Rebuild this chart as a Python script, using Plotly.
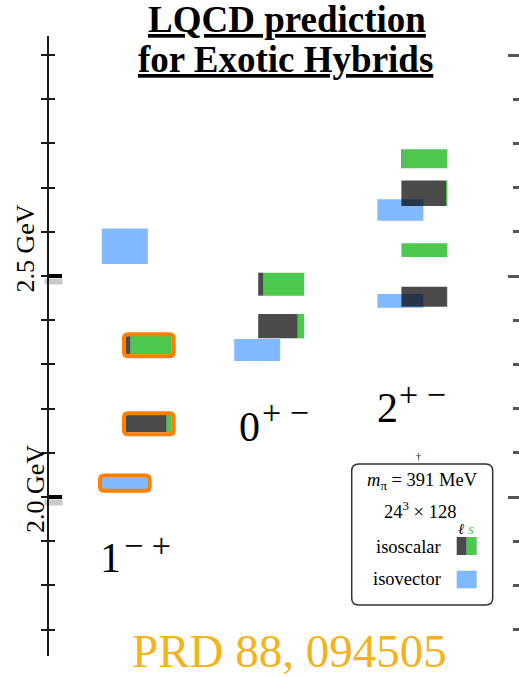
import plotly.graph_objects as go

# ---------------- data ----------------
# J^PC channels shown along the horizontal direction
channels = ["1-+", "0+-", "2+-"]
channel_digit = ["1", "0", "2"]
channel_sup = ["\u2212 +", "+ \u2212", "+ \u2212"]

# isovector states: channel, mass (GeV), half-height uncertainty (GeV)
iv_channel = ["1-+", "1-+", "0+-", "2+-", "2+-"]
iv_mass = [2.0313, 2.5674, 2.3326, 2.4439, 2.6493]
iv_err = [0.0133, 0.0403, 0.0250, 0.0155, 0.0242]
iv_hybrid = [True, False, False, False, False]

# isoscalar states: channel, mass, uncertainty, light-quark (l) fraction vs strange (s)
is_channel = ["1-+", "1-+", "0+-", "0+-", "2+-", "2+-", "2+-", "2+-"]
is_mass = [2.1659, 2.3434, 2.3865, 2.4815, 2.4532, 2.5584, 2.6871, 2.7652]
is_err = [0.0196, 0.0207, 0.0275, 0.0260, 0.0226, 0.0155, 0.0287, 0.0215]
is_light = [0.885, 0.10, 0.857, 0.11, 0.99, 0.0, 0.97, 0.02]
is_hybrid = [True, True, False, False, False, False, False, False]

tick_vals = [1.7, 1.8, 1.9, 2.0, 2.1, 2.2, 2.3, 2.4, 2.5, 2.6, 2.7, 2.8, 2.9, 3.0]
major_left = [2.0, 2.5]
major_right = [2.0, 2.5, 3.0]
axis_labels = ["2.5 GeV", "2.0 GeV"]

# ---------------- layout constants ----------------
W, H = 519, 677
M_L, M_R, M_T, M_B = 49, 0, 36, 21
PLOT_W = W - M_L - M_R
PLOT_H = H - M_T - M_B
Y_RANGE = [1.6403, 3.0430]
PX_PER_GEV = PLOT_H / (Y_RANGE[1] - Y_RANGE[0])

COL_X = {"1-+": 136.8, "0+-": 269.2, "2+-": 412.4}
BOX_W = 46
OFFSET = 12

BLUE = "#80B9FF"
GREEN = "#4CC94C"
DARK = "rgba(0,0,0,0.71)"
ORANGE = "#FF8000"
GOLD = "#F5B21C"
SERIF = "Liberation Serif"


def px(xp):
    """horizontal pixel -> paper x"""
    return (xp - M_L) / PLOT_W


def py(yp):
    """vertical pixel -> paper y"""
    return (H - M_B - yp) / PLOT_H


shapes = []


def rect(x0, x1, y0, y1, color):
    shapes.append(dict(type="rect", xref="x", yref="y", x0=x0, x1=x1, y0=y0, y1=y1,
                       fillcolor=color, line=dict(width=0), layer="above"))


def rounded(x0, x1, y0, y1, r, ry, color, width, xref="x", yref="y"):
    p = (f"M {x0 + r},{y0} L {x1 - r},{y0} Q {x1},{y0} {x1},{y0 + ry} "
         f"L {x1},{y1 - ry} Q {x1},{y1} {x1 - r},{y1} L {x0 + r},{y1} "
         f"Q {x0},{y1} {x0},{y1 - ry} L {x0},{y0 + ry} Q {x0},{y0} {x0 + r},{y0} Z")
    shapes.append(dict(type="path", xref=xref, yref=yref, path=p,
                       line=dict(color=color, width=width), layer="above"))


# isovector boxes
for ch, m, e in zip(iv_channel, iv_mass, iv_err):
    x0 = COL_X[ch] - OFFSET - BOX_W / 2
    rect(x0, x0 + BOX_W, m - e, m + e, BLUE)

# isoscalar boxes: light part on the left, strange part on the right
for ch, m, e, f in zip(is_channel, is_mass, is_err, is_light):
    x0 = COL_X[ch] + OFFSET - BOX_W / 2
    xs = x0 + f * BOX_W
    if f < 1:
        rect(xs, x0 + BOX_W, m - e, m + e, GREEN)
    if f > 0:
        rect(x0, xs, m - e, m + e, DARK)

# orange frames around the lightest exotic hybrid candidates
PAD = 1.8
for chs, ms, es, hs, off in ((iv_channel, iv_mass, iv_err, iv_hybrid, -OFFSET),
                              (is_channel, is_mass, is_err, is_hybrid, OFFSET)):
    for ch, m, e, h in zip(chs, ms, es, hs):
        if not h:
            continue
        x0 = COL_X[ch] + off - BOX_W / 2 - PAD
        x1 = x0 + BOX_W + 2 * PAD
        dy = PAD / PX_PER_GEV
        rounded(x0, x1, m - e - dy, m + e + dy, 4, 4 / PX_PER_GEV, ORANGE, 4)

# soft shadow under the bold major ticks
for v in major_left:
    yp = M_T + (Y_RANGE[1] - v) * PX_PER_GEV
    for k, a in ((0, 0.10), (1, 0.12)):
        shapes.append(dict(type="rect", xref="paper", yref="paper",
                           x0=px(44 + k), x1=px(63 - k), y0=py(yp + 2 + k), y1=py(yp + 9 - k),
                           fillcolor=f"rgba(0,0,0,{a})", line=dict(width=0), layer="below"))

# legend frame and swatches
rounded(px(351.7), px(492.7), py(605), py(464), 7 / PLOT_W, 7 / PLOT_H, "#333333", 1.5,
        xref="paper", yref="paper")
for x0, x1, y0, y1, c in ((456.7, 466.7, 537, 555, "#4a4a4a"),
                          (466.7, 476.7, 537, 555, GREEN),
                          (456.7, 476.7, 570.7, 588.3, BLUE)):
    shapes.append(dict(type="rect", xref="paper", yref="paper", x0=px(x0), x1=px(x1),
                       y0=py(y1), y1=py(y0), fillcolor=c, line=dict(width=0), layer="above"))

annotations = []


def text(t, xp, yp, size, color="black", angle=0):
    annotations.append(dict(text=t, xref="paper", yref="paper", x=px(xp), y=py(yp),
                            xanchor="center", yanchor="middle", showarrow=False,
                            textangle=angle, font=dict(family=SERIF, size=size, color=color)))


text("<b><u>LQCD prediction</u></b>", 286.5, 20, 37)
text("<b><u>for Exotic Hybrids</u></b>", 285, 60, 37)
text("PRD 88, 094505", 289, 651, 47, GOLD)

text(axis_labels[0], 25.5, 249, 26, angle=-90)
text(axis_labels[1], 35, 489, 26, angle=-90)

# channel labels
label_pos = {"1-+": (110.5, 558, 147.5, 545), "0+-": (249, 427, 285, 412),
             "2+-": (387.5, 408, 422.5, 394)}
for ch, d, s in zip(channels, channel_digit, channel_sup):
    xd, yd, xs_, ys_ = label_pos[ch]
    text(d, xd, yd, 42)
    text(s, xs_, ys_, 34)

# legend contents
text("<i>m</i><sub>\u03c0</sub> = 391 MeV", 422.5, 481, 18.5)
text("24<sup>3</sup> \u00d7 128", 419.5, 510, 18.5)
text(f"<i>\u2113</i> <span style='color:{GREEN}'><i>s</i></span>", 466, 529, 15)
text("isoscalar", 408.5, 547, 18.5)
text("isovector", 406.5, 579, 18.5)
text("\u2020", 418, 457, 10)

fig = go.Figure()
# one invisible trace per axis so that every tick layer is drawn
for ax in ["y", "y2", "y3", "y4", "y5"]:
    fig.add_trace(go.Scatter(x=[None], y=[None], yaxis=ax, mode="markers",
                             showlegend=False, hoverinfo="skip"))

common = dict(range=Y_RANGE, showgrid=False, zeroline=False, showticklabels=False,
              tickmode="array")
fig.update_layout(
    width=W, height=H,
    margin=dict(l=M_L, r=M_R, t=M_T, b=M_B, pad=0),
    paper_bgcolor="white", plot_bgcolor="white",
    showlegend=False,
    xaxis=dict(range=[M_L, W - M_R], visible=False, fixedrange=True),
    yaxis=dict(**common, tickvals=tick_vals, showline=True, linecolor="#1a1a1a", linewidth=2,
               ticks="outside", ticklen=6, tickwidth=1.5, tickcolor="#1a1a1a"),
    yaxis2=dict(**common, overlaying="y", anchor="x", side="left", tickvals=tick_vals,
                showline=False, ticks="inside", ticklen=6, tickwidth=1.5, tickcolor="#1a1a1a"),
    yaxis3=dict(**common, overlaying="y", anchor="x", side="left", tickvals=major_left,
                showline=False, ticks="inside", ticklen=13, tickwidth=3.5, tickcolor="black"),
    yaxis4=dict(**common, overlaying="y", anchor="x", side="right", tickvals=tick_vals,
                showline=False, ticks="inside", ticklen=6, tickwidth=2.5, tickcolor="#555555"),
    yaxis5=dict(**common, overlaying="y", anchor="x", side="right", tickvals=major_right,
                showline=False, ticks="inside", ticklen=11, tickwidth=2.5, tickcolor="#555555"),
    shapes=shapes,
    annotations=annotations,
)

fig.write_html("out.html")
